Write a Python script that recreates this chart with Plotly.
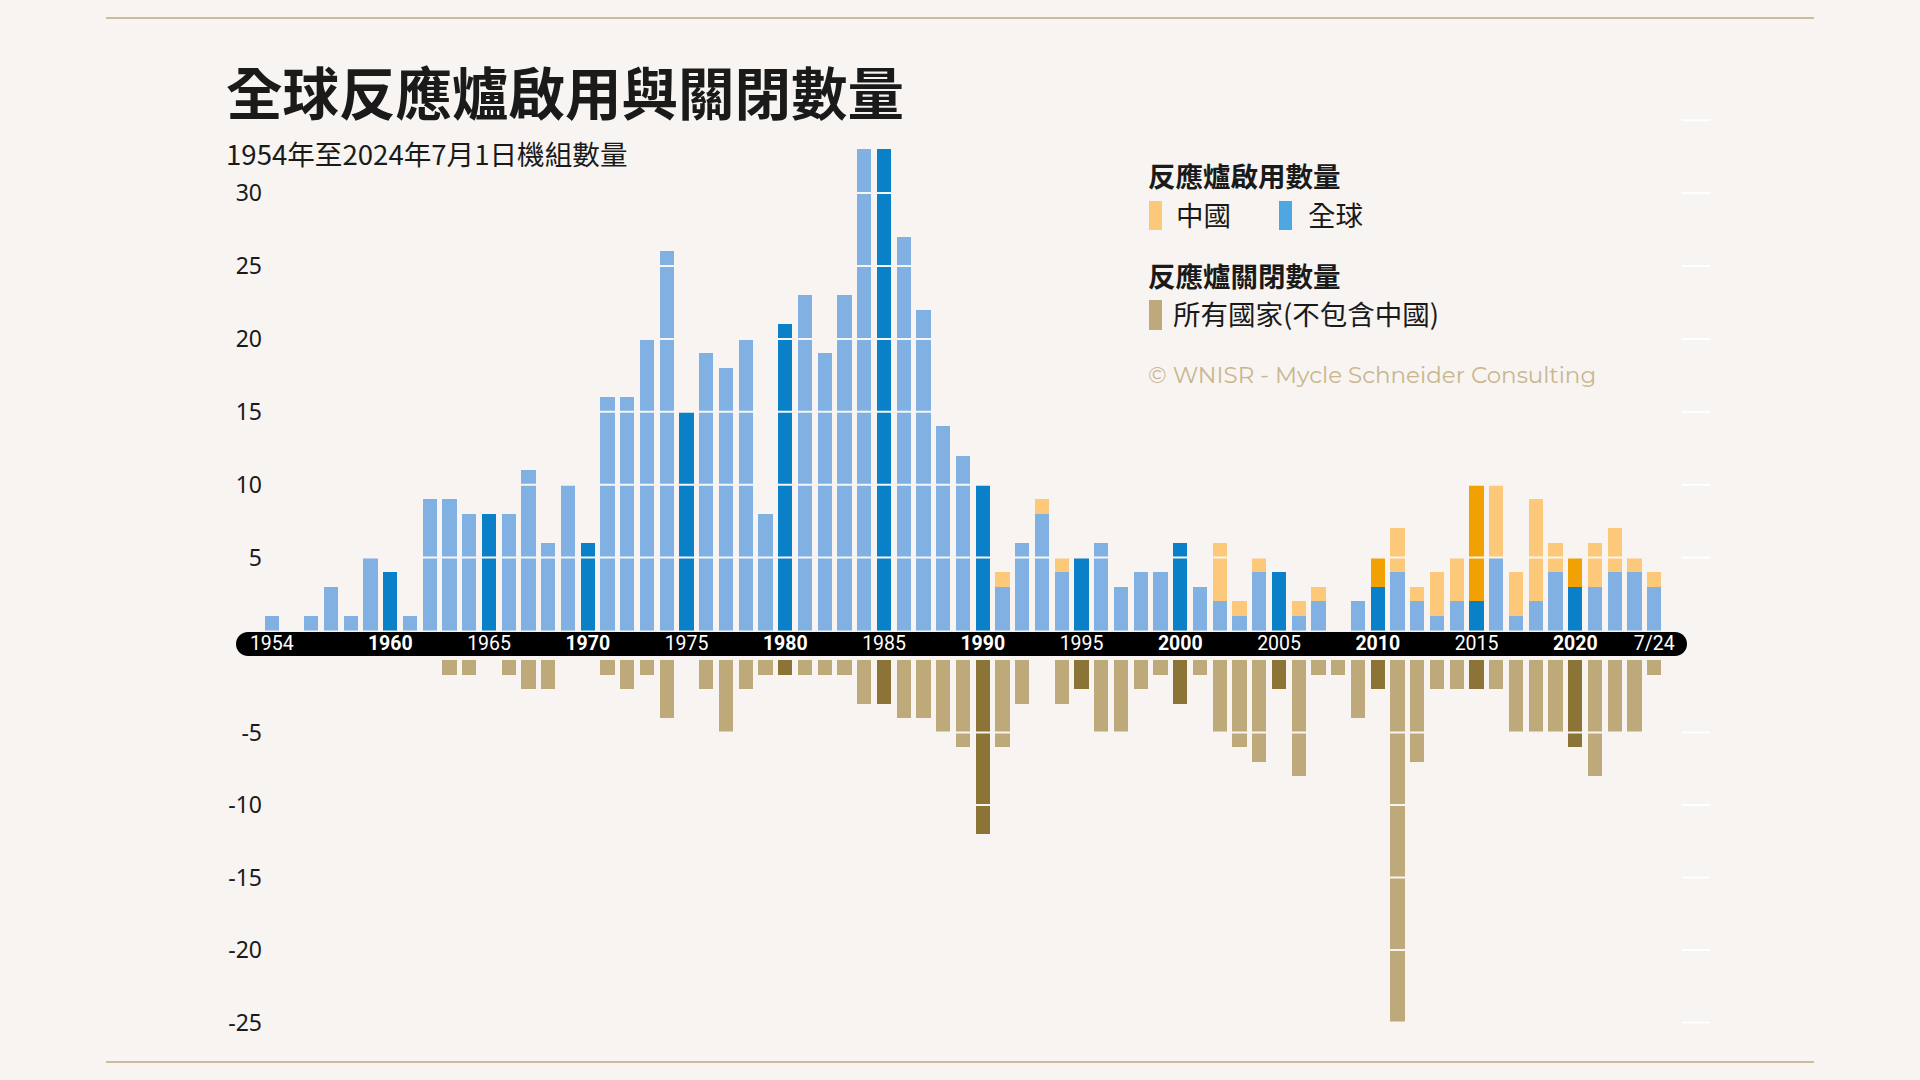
import plotly.graph_objects as go

# ---------------- data ----------------
years = list(range(1954, 2025))
startups_world_ex_china = [1, 0, 1, 3, 1, 5, 4, 1, 9, 9,
                           8, 8, 8, 11, 6, 10, 6, 16, 16, 20,
                           26, 15, 19, 18, 20, 8, 21, 23, 19, 23,
                           33, 33, 27, 22, 14, 12, 10, 3, 6, 8,
                           4, 5, 6, 3, 4, 4, 6, 3, 2, 1,
                           4, 4, 1, 2, 0, 2, 3, 4, 2, 1,
                           2, 2, 5, 1, 2, 4, 3, 3, 4, 4,
                           3]
startups_china = [0] * 37 + [1, 0, 1, 1, 0, 0, 0, 0, 0, 0,
                             0, 4, 1, 1, 0, 1, 1, 0, 0, 2,
                             3, 1, 3, 3, 8, 5, 3, 7, 2, 2,
                             3, 3, 1, 1]
closures = [0, 0, 0, 0, 0, 0, 0, 0, 0, 1,
            1, 0, 1, 2, 2, 0, 0, 1, 2, 1,
            4, 0, 2, 5, 2, 1, 1, 1, 1, 1,
            3, 3, 4, 4, 5, 6, 12, 6, 3, 0,
            3, 2, 5, 5, 2, 1, 3, 1, 5, 6,
            7, 2, 8, 1, 1, 4, 2, 25, 7, 2,
            2, 2, 2, 5, 5, 5, 6, 8, 5, 5,
            1]
x_tick_vals = [1954, 1960, 1965, 1970, 1975, 1980, 1985, 1990, 1995, 2000, 2005, 2010, 2015, 2020, 2024]
x_tick_text = ["1954", "<b>1960</b>", "1965", "<b>1970</b>", "1975", "<b>1980</b>", "1985",
               "<b>1990</b>", "1995", "<b>2000</b>", "2005", "<b>2010</b>", "2015", "<b>2020</b>", "7/24"]
pos_ticks = [5, 10, 15, 20, 25, 30]
neg_ticks = [-5, -10, -15, -20, -25]
pos_grid = [5, 10, 15, 20, 25, 30, 35]

title = "全球反應爐啟用與關閉數量"
subtitle = "1954年至2024年7月1日機組數量"
legend_head_1 = "反應爐啟用數量"
legend_china = "中國"
legend_world = "全球"
legend_head_2 = "反應爐關閉數量"
legend_closed = "所有國家(不包含中國)"
credit = "© WNISR - Mycle Schneider Consulting"

# ---------------- style ----------------
W, H = 1920, 1080
BG = "#f7f4f2"
BLUE_L, BLUE_D = "#80b1e2", "#0a80c8"
ORANGE_L, ORANGE_D = "#fcc97b", "#f2a103"
TAN_L, TAN_D = "#bea97b", "#8c7336"
LINE_TAN = "#cdbb9d"
CJK = "Noto Sans CJK TC"


def px(x):
    return x / W


def py(y):
    return 1 - y / H


is_major = [y % 5 == 0 for y in years]
blue_cols = [BLUE_D if m else BLUE_L for m in is_major]
orange_cols = [ORANGE_D if m else ORANGE_L for m in is_major]
tan_cols = [TAN_D if m else TAN_L for m in is_major]

# axis geometry (pixels)
X_LEFT, X_RIGHT = 236, 1687
YEAR0_PX, YEAR_STEP = 271.8, 19.75
x_range = [1954 + (X_LEFT - YEAR0_PX) / YEAR_STEP, 1954 + (X_RIGHT - YEAR0_PX) / YEAR_STEP]

POS_ZERO, POS_UNIT, POS_MAX = 630.5, 14.58, 36
NEG_ZERO, NEG_UNIT, NEG_MIN = 660.0, 14.5, -26

fig = go.Figure()
fig.add_trace(go.Bar(x=years, y=startups_world_ex_china, marker=dict(color=blue_cols, line=dict(width=0)),
                     name=legend_world, xaxis="x", yaxis="y", showlegend=False))
fig.add_trace(go.Bar(x=years, y=startups_china, marker=dict(color=orange_cols, line=dict(width=0)),
                     name=legend_china, xaxis="x", yaxis="y", showlegend=False))
fig.add_trace(go.Bar(x=years, y=[-c for c in closures], marker=dict(color=tan_cols, line=dict(width=0)),
                     name=legend_closed, xaxis="x2", yaxis="y2", showlegend=False))

shapes = []
# black pill axis band
bx0, bx1, by0, by1 = 236, 1687, 632, 656
r = (by1 - by0) / 2
k = 0.5523 * r
yc = (by0 + by1) / 2
path = (f"M {px(bx0 + r)},{py(by0)} L {px(bx1 - r)},{py(by0)} "
        f"C {px(bx1 - r + k)},{py(by0)} {px(bx1)},{py(yc - k)} {px(bx1)},{py(yc)} "
        f"C {px(bx1)},{py(yc + k)} {px(bx1 - r + k)},{py(by1)} {px(bx1 - r)},{py(by1)} "
        f"L {px(bx0 + r)},{py(by1)} "
        f"C {px(bx0 + r - k)},{py(by1)} {px(bx0)},{py(yc + k)} {px(bx0)},{py(yc)} "
        f"C {px(bx0)},{py(yc - k)} {px(bx0 + r - k)},{py(by0)} {px(bx0 + r)},{py(by0)} Z")
shapes.append(dict(type="path", path=path, xref="paper", yref="paper", fillcolor="#000000",
                   line=dict(width=0), layer="below"))

# gridlines cut through the bars (background coloured) + faint white stubs at the right
for v in pos_grid:
    shapes.append(dict(type="line", xref="paper", yref="y", x0=px(263), x1=px(1680), y0=v, y1=v,
                       line=dict(color=BG, width=2), layer="above"))
    shapes.append(dict(type="line", xref="paper", yref="y", x0=px(1682), x1=px(1710), y0=v, y1=v,
                       line=dict(color="#ffffff", width=2), layer="above"))
for v in neg_ticks:
    shapes.append(dict(type="line", xref="paper", yref="y2", x0=px(263), x1=px(1680), y0=v, y1=v,
                       line=dict(color=BG, width=2), layer="above"))
    shapes.append(dict(type="line", xref="paper", yref="y2", x0=px(1682), x1=px(1710), y0=v, y1=v,
                       line=dict(color="#ffffff", width=2), layer="above"))

# frame lines top / bottom
shapes.append(dict(type="line", xref="paper", yref="paper", x0=px(106), x1=px(1814), y0=py(18), y1=py(18),
                   line=dict(color=LINE_TAN, width=2)))
shapes.append(dict(type="line", xref="paper", yref="paper", x0=px(106), x1=px(1814), y0=py(1062), y1=py(1062),
                   line=dict(color=LINE_TAN, width=2)))

# legend swatches
for (x0, x1, y0, y1, c) in [(1149, 1162, 201, 230, ORANGE_L), (1279, 1292, 201, 230, "#4ea7e0"),
                            (1149, 1162, 300, 330, TAN_L)]:
    shapes.append(dict(type="rect", xref="paper", yref="paper", x0=px(x0), x1=px(x1), y0=py(y0), y1=py(y1),
                       fillcolor=c, line=dict(width=0)))

annotations = []


def add_text(text, x, y, size, color="#1a1a1a", family=CJK, anchor="left"):
    annotations.append(dict(text=text, x=px(x), y=py(y), xref="paper", yref="paper", xanchor=anchor,
                            yanchor="middle", showarrow=False, font=dict(size=size, color=color, family=family)))


add_text(f"<b>{title}</b>", 224, 90, 56.5)
add_text(subtitle, 224, 153, 27.6)
add_text(f"<b>{legend_head_1}</b>", 1146, 175, 27.5)
add_text(legend_china, 1174, 214, 27.5)
add_text(legend_world, 1306, 214, 27.5)
add_text(f"<b>{legend_head_2}</b>", 1146, 275, 27.5)
add_text(legend_closed, 1171, 313, 27.5)
add_text(credit, 1146, 375, 23, color="#c9b68f", family="Montserrat, Open Sans, sans-serif")

fig.update_layout(
    width=W, height=H,
    paper_bgcolor=BG, plot_bgcolor="rgba(0,0,0,0)",
    margin=dict(l=0, r=0, t=0, b=0),
    barmode="stack", bargap=0.28,
    shapes=shapes, annotations=annotations,
    xaxis=dict(domain=[px(X_LEFT), px(X_RIGHT)], range=x_range, anchor="free", position=py(629),
               tickvals=x_tick_vals, ticktext=x_tick_text, ticks="", ticklabelstandoff=0,
               tickfont=dict(family="Roboto", size=19.5, color="#ffffff"),
               showgrid=False, zeroline=False, showline=False),
    xaxis2=dict(domain=[px(X_LEFT), px(X_RIGHT)], matches="x", anchor="y2", showticklabels=False,
                showgrid=False, zeroline=False, showline=False, ticks=""),
    yaxis=dict(domain=[py(POS_ZERO), py(POS_ZERO - POS_MAX * POS_UNIT)], range=[0, POS_MAX],
               anchor="free", position=px(262), tickvals=pos_ticks, ticktext=[str(v) for v in pos_ticks],
               ticks="", showgrid=False, zeroline=False, showline=False,
               tickfont=dict(family="Noto Sans", size=23, color="#1a1a1a")),
    yaxis2=dict(domain=[py(NEG_ZERO - NEG_MIN * NEG_UNIT), py(NEG_ZERO)], range=[NEG_MIN, 0],
                anchor="free", position=px(262), tickvals=neg_ticks, ticktext=[f"-{abs(v)}" for v in neg_ticks],
                ticks="", showgrid=False, zeroline=False, showline=False,
                tickfont=dict(family="Noto Sans", size=23, color="#1a1a1a")),
)

fig.write_html("out.html", config={"displayModeBar": False},
               post_script="document.body.style.margin='0';document.body.style.overflow='hidden';")
